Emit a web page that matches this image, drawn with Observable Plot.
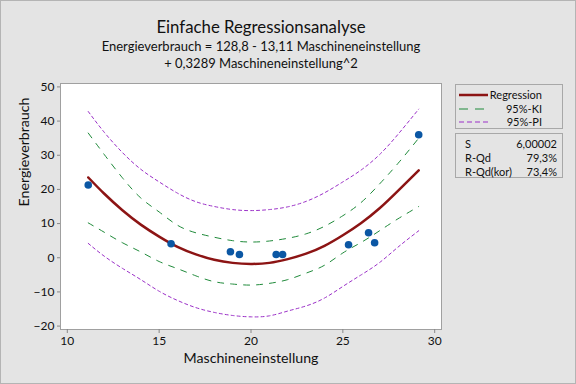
<!DOCTYPE html>
<html><head><meta charset="utf-8">
<script src="https://cdn.jsdelivr.net/npm/d3@7"></script>
<script src="https://cdn.jsdelivr.net/npm/@observablehq/plot@0.6"></script>
<style>
body{margin:0;background:#e4e4e4;}
#wrap{position:relative;width:576px;height:384px;background:#e4e4e4;font-family:Lato,"Open Sans",sans-serif;color:#111;overflow:hidden;}
#edge{position:absolute;left:0;top:0;width:574px;height:382px;border:1px solid #b4b4b4;pointer-events:none;}
.t{position:absolute;left:161px;width:200px;text-align:center;white-space:nowrap;}
.t span{display:inline-block;}
#title{top:16px;font-size:16.8px;font-weight:normal;}
#sub1{top:38px;font-size:13px;}
#sub2{top:55px;font-size:13px;}
.box{position:absolute;left:455px;width:106px;height:43px;border:1px solid #a8a8a8;font-size:11px;}
.row{position:absolute;left:0;width:106px;height:14px;line-height:14px;}
.row svg{position:absolute;left:3px;top:4px;}
.lab{position:absolute;right:20px;}
.k{position:absolute;left:9px;}
.v{position:absolute;right:5px;}
#chart{position:absolute;left:0;top:0;}
</style></head>
<body>
<div id="wrap">
  <div id="chart"></div>
  <div class="t" id="title"><span style="margin-left:-200px;margin-right:-200px;">Einfache Regressionsanalyse</span></div>
  <div class="t" id="sub1"><span style="margin-left:-200px;margin-right:-200px;">Energieverbrauch = 128,8 - 13,11 Maschineneinstellung</span></div>
  <div class="t" id="sub2"><span style="margin-left:-200px;margin-right:-200px;">+ 0,3289 Maschineneinstellung^2</span></div>
  <div class="box" style="top:84px;">
    <div class="row" style="top:3px;"><svg width="30" height="6"><line x1="0" y1="3" x2="29" y2="3" stroke="#8c1414" stroke-width="2.5"/></svg><span class="lab">Regression</span></div>
    <div class="row" style="top:17px;"><svg width="30" height="6"><line x1="0" y1="3" x2="29" y2="3" stroke="#1f8a3a" stroke-width="1" stroke-dasharray="9,7"/></svg><span class="lab">95%-KI</span></div>
    <div class="row" style="top:30px;"><svg width="30" height="6"><line x1="0" y1="3" x2="29" y2="3" stroke="#9b30c8" stroke-width="1" stroke-dasharray="5,3"/></svg><span class="lab">95%-PI</span></div>
  </div>
  <div class="box" style="top:133px;">
    <div class="row" style="top:3px;"><span class="k">S</span><span class="v">6,00002</span></div>
    <div class="row" style="top:17px;"><span class="k">R-Qd</span><span class="v">79,3%</span></div>
    <div class="row" style="top:31px;"><span class="k">R-Qd(kor)</span><span class="v">73,4%</span></div>
  </div>
  <div id="edge"></div>
</div>
<script>
// Beobachtungen
const ptX = [11.14, 15.65, 18.88, 19.37, 21.37, 21.72, 25.31, 26.40, 26.73, 29.13];
const ptY = [21.3, 4.1, 1.75, 0.96, 0.96, 0.96, 3.8, 7.3, 4.4, 36.0];
// Kurvenstützstellen
const cx      = [11.14, 12, 13, 14, 15, 16, 17, 18, 19, 20, 21, 22, 23, 24, 25, 26, 27, 28, 29.13];
const fitY    = [23.5, 18.8, 13.9, 9.7, 6.2, 3.2, 1.0, -0.6, -1.5, -1.8, -1.5, -0.4, 1.2, 3.5, 6.6, 10.2, 14.5, 19.6, 25.6];
const kiUpper = [36.5, 30.3, 23.4, 17.5, 13.4, 9.5, 7.3, 6.0, 5.0, 4.6, 4.9, 5.7, 7.0, 9.2, 12.3, 16.2, 21.6, 27.6, 35.0];
const kiLower = [10.2, 7.5, 4.4, 1.7, -1.1, -3.2, -5.3, -7.0, -7.7, -8.0, -7.5, -6.4, -4.5, -2.2, 1.4, 4.5, 7.9, 11.4, 15.0];
const piUpper = [42.8, 36.8, 30.8, 25.9, 22.2, 18.9, 16.4, 15.0, 14.1, 13.8, 14.1, 14.9, 16.5, 19.0, 22.2, 25.7, 30.2, 36.1, 43.5];
const piLower = [4.2, 0.5, -3.1, -6.4, -9.8, -12.5, -14.6, -16.0, -16.9, -17.3, -17.0, -15.6, -14.1, -11.8, -8.4, -5.0, -1.4, 3.1, 7.9];
const xTicks = [10, 15, 20, 25, 30];
const yTicks = [-20, -10, 0, 10, 20, 30, 40, 50];

const curve = cx.map((x, i) => ({x, fit: fitY[i], kiU: kiUpper[i], kiL: kiLower[i], piU: piUpper[i], piL: piLower[i]}));
const pts = ptX.map((x, i) => ({x, y: ptY[i]}));

const chart = Plot.plot({
  width: 576, height: 384,
  marginLeft: 60, marginRight: 135, marginTop: 83, marginBottom: 55,
  style: {background: "transparent", fontFamily: "Lato, 'Open Sans', sans-serif", fontSize: "12px", color: "#111", overflow: "visible"},
  x: {domain: [9.63, 30.37]},
  y: {domain: [-21, 51]},
  marks: [
    Plot.frame({fill: "white", stroke: "#a0a0a0"}),
    Plot.axisX({ticks: xTicks, tickSize: 4, tickPadding: 3, stroke: "#888", label: null, fontSize: 12}),
    Plot.axisY({ticks: yTicks, tickSize: 3, tickPadding: 3, stroke: "#888", label: null, fontSize: 12}),
    Plot.line(curve, {x: "x", y: "piU", stroke: "#9b30c8", strokeWidth: 1, strokeDasharray: "3,3", curve: "natural"}),
    Plot.line(curve, {x: "x", y: "piL", stroke: "#9b30c8", strokeWidth: 1, strokeDasharray: "3,3", curve: "natural"}),
    Plot.line(curve, {x: "x", y: "kiU", stroke: "#1f8a3a", strokeWidth: 1, strokeDasharray: "6,7", curve: "natural"}),
    Plot.line(curve, {x: "x", y: "kiL", stroke: "#1f8a3a", strokeWidth: 1, strokeDasharray: "6,7", curve: "natural"}),
    Plot.line(curve, {x: "x", y: "fit", stroke: "#8c1414", strokeWidth: 2.5, curve: "natural"}),
    Plot.dot(pts, {x: "x", y: "y", r: 3.8, fill: "#0b57a4", stroke: "none"}),
    Plot.text(["Maschineneinstellung"], {frameAnchor: "bottom", dy: 29, fontSize: 14.2, lineAnchor: "middle", fill: "#111"}),
    Plot.text(["Energieverbrauch"], {frameAnchor: "left", dx: -36, rotate: -90, fontSize: 14.2, lineAnchor: "middle", fill: "#111"})
  ]
});
document.getElementById("chart").appendChild(chart);
</script>
</body></html>
